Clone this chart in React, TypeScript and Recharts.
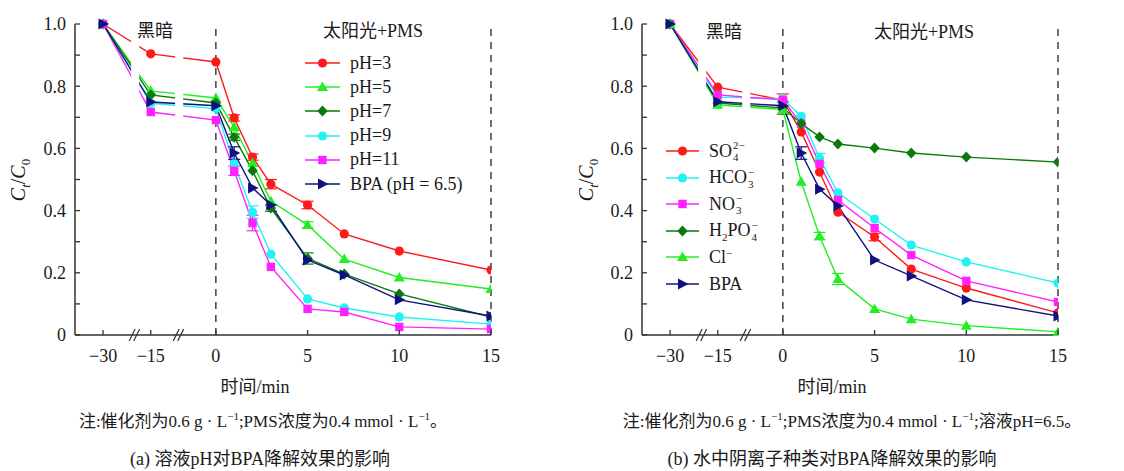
import React from "react";
import {
  LineChart,
  Line,
  XAxis,
  YAxis,
  ErrorBar,
  ReferenceLine,
  ReferenceArea,
  ReferenceDot,
} from "recharts";

// time points (min); the -30 and -15 points sit on a broken axis
const TIMES = [-30, -15, 0, 1, 2, 3, 5, 7, 10, 15];
const X_TICKS = [-30, -15, 0, 5, 10, 15];
const Y_TICKS = [0, 0.1, 0.2, 0.3, 0.4, 0.5, 0.6, 0.7, 0.8, 0.9, 1.0];

// (a) effect of pH
const PH3 = [1.0, 0.904, 0.878, 0.698, 0.572, 0.485, 0.418, 0.325, 0.27, 0.209];
const PH5 = [1.0, 0.785, 0.762, 0.668, 0.553, 0.43, 0.354, 0.244, 0.185, 0.148];
const PH7 = [1.0, 0.772, 0.746, 0.636, 0.528, 0.408, 0.246, 0.196, 0.132, 0.058];
const PH9 = [1.0, 0.745, 0.728, 0.55, 0.395, 0.26, 0.116, 0.087, 0.058, 0.035];
const PH11 = [1.0, 0.717, 0.691, 0.528, 0.36, 0.219, 0.084, 0.074, 0.026, 0.019];
const BPA_A = [1.0, 0.749, 0.737, 0.585, 0.473, 0.418, 0.241, 0.193, 0.113, 0.061];

// error bars (a)
const PH3_ERR = [0, 0, 0, 0.01, 0.01, 0.015, 0.012, 0, 0, 0];
const PH5_ERR = [0, 0, 0, 0, 0, 0, 0.01, 0, 0, 0];
const PH7_ERR = [0, 0, 0, 0.01, 0, 0.01, 0.018, 0, 0, 0];
const PH9_ERR = [0, 0, 0, 0, 0.02, 0, 0, 0, 0, 0];
const PH11_ERR = [0, 0, 0, 0.015, 0.025, 0, 0, 0, 0, 0];
const BPA_A_ERR = [0, 0, 0, 0.02, 0, 0, 0, 0, 0, 0];

// (b) effect of anions
const SO4 = [1.0, 0.797, 0.755, 0.653, 0.524, 0.395, 0.315, 0.212, 0.151, 0.071];
const HCO3 = [1.0, 0.765, 0.76, 0.703, 0.569, 0.457, 0.373, 0.289, 0.235, 0.167];
const NO3 = [1.0, 0.772, 0.756, 0.68, 0.55, 0.434, 0.344, 0.257, 0.174, 0.106];
const H2PO4 = [1.0, 0.746, 0.73, 0.68, 0.637, 0.614, 0.601, 0.585, 0.572, 0.556];
const CL = [1.0, 0.74, 0.725, 0.493, 0.318, 0.18, 0.084, 0.051, 0.03, 0.01];
const BPA_B = [1.0, 0.75, 0.737, 0.585, 0.469, 0.415, 0.241, 0.19, 0.113, 0.061];

// error bars (b)
const SO4_ERR = [0, 0, 0.02, 0, 0, 0, 0.012, 0, 0, 0];
const HCO3_ERR = [0, 0, 0, 0, 0.015, 0, 0, 0, 0, 0];
const NO3_ERR = [0, 0, 0, 0, 0, 0, 0, 0, 0, 0];
const H2PO4_ERR = [0, 0, 0.02, 0, 0, 0, 0, 0, 0, 0];
const CL_ERR = [0, 0, 0, 0, 0.012, 0.018, 0, 0, 0, 0];
const BPA_B_ERR = [0, 0, 0, 0.02, 0, 0, 0, 0, 0, 0];

// broken axis: where the dark-phase times land on the axis
const BROKEN_POS: Record<number, number> = { [-30]: -6.15, [-15]: -3.55 };
const BREAKS = [-4.4, -2.0];
const X_MIN = -7.68;

const axisPos = (t: number) => (t in BROKEN_POS ? BROKEN_POS[t] : t);

const FONT = "'Liberation Serif', 'Times New Roman', 'Noto Sans CJK SC', serif";
const INK = "#1a1a1a";
const AXIS = "#333";

type Shape = "circle" | "triangle" | "diamond" | "square" | "right";

function Marker({ cx, cy, shape, color }: { cx: number; cy: number; shape: Shape; color: string }) {
  if (cx == null || cy == null) return null;
  switch (shape) {
    case "circle":
      return <circle cx={cx} cy={cy} r={4.6} fill={color} />;
    case "triangle":
      return <polygon points={`${cx},${cy - 5.5} ${cx + 5.5},${cy + 4} ${cx - 5.5},${cy + 4}`} fill={color} />;
    case "diamond":
      return <polygon points={`${cx},${cy - 5.5} ${cx + 5.2},${cy} ${cx},${cy + 5.5} ${cx - 5.2},${cy}`} fill={color} />;
    case "square":
      return <rect x={cx - 4.2} y={cy - 4.2} width={8.4} height={8.4} fill={color} />;
    default:
      return <polygon points={`${cx - 4.5},${cy - 5.5} ${cx + 6},${cy} ${cx - 4.5},${cy + 5.5}`} fill={color} />;
  }
}

type Series = { key: string; label: React.ReactNode; color: string; shape: Shape; values: number[]; err: number[] };

const Ion = ({ base, sup, sub }: { base: string; sup?: string; sub?: string }) => (
  <span style={{ display: "inline-flex", alignItems: "center" }}>
    {base}
    <span style={{ display: "inline-flex", flexDirection: "column", fontSize: 11, lineHeight: "12px", marginLeft: 1 }}>
      <span style={{ height: 12 }}>{sup ?? "\u00a0"}</span>
      <span style={{ height: 12 }}>{sub ?? "\u00a0"}</span>
    </span>
  </span>
);

const SERIES_A: Series[] = [
  { key: "ph3", label: "pH=3", color: "#ff1a1a", shape: "circle", values: PH3, err: PH3_ERR },
  { key: "ph5", label: "pH=5", color: "#22ee22", shape: "triangle", values: PH5, err: PH5_ERR },
  { key: "ph7", label: "pH=7", color: "#0a7a0a", shape: "diamond", values: PH7, err: PH7_ERR },
  { key: "ph9", label: "pH=9", color: "#22f2f2", shape: "circle", values: PH9, err: PH9_ERR },
  { key: "ph11", label: "pH=11", color: "#ff22ff", shape: "square", values: PH11, err: PH11_ERR },
  { key: "bpa", label: "BPA (pH = 6.5)", color: "#101080", shape: "right", values: BPA_A, err: BPA_A_ERR },
];

const SERIES_B: Series[] = [
  { key: "so4", label: <Ion base="SO" sup="2−" sub="4" />, color: "#ff1a1a", shape: "circle", values: SO4, err: SO4_ERR },
  { key: "hco3", label: <Ion base="HCO" sup="−" sub="3" />, color: "#22f2f2", shape: "circle", values: HCO3, err: HCO3_ERR },
  { key: "no3", label: <Ion base="NO" sup="−" sub="3" />, color: "#ff22ff", shape: "square", values: NO3, err: NO3_ERR },
  {
    key: "h2po4",
    label: (
      <span style={{ display: "inline-flex", alignItems: "center" }}>
        H<span style={{ fontSize: 11, position: "relative", top: 6 }}>2</span>
        <Ion base="PO" sup="−" sub="4" />
      </span>
    ),
    color: "#0a7a0a",
    shape: "diamond",
    values: H2PO4,
    err: H2PO4_ERR,
  },
  {
    key: "cl",
    label: (
      <span>
        Cl<span style={{ fontSize: 11, position: "relative", top: -6 }}>−</span>
      </span>
    ),
    color: "#22ee22",
    shape: "triangle",
    values: CL,
    err: CL_ERR,
  },
  { key: "bpa", label: "BPA", color: "#101080", shape: "right", values: BPA_B, err: BPA_B_ERR },
];

function buildRows(series: Series[]) {
  return TIMES.map((t, i) => {
    const row: Record<string, number> = { t, pos: axisPos(t) };
    series.forEach((s) => {
      row[s.key] = s.values[i];
      row[`${s.key}Err`] = s.err[i];
    });
    return row;
  });
}

const xLabel = (p: number) => {
  const t = X_TICKS.find((v) => Math.abs(axisPos(v) - p) < 1e-6) ?? p;
  return t < 0 ? `−${Math.abs(t)}` : `${t}`;
};

function XTick(props: any) {
  const { x, y, payload } = props;
  return (
    <g>
      <line x1={x} x2={x} y1={y} y2={y - 5} stroke={AXIS} strokeWidth={1.3} />
      <text x={x} y={y + 27} textAnchor="middle" fontSize={18} fill={INK} fontFamily={FONT}>
        {xLabel(payload.value)}
      </text>
    </g>
  );
}

function YTick(props: any) {
  const { x, y, payload } = props;
  const v = payload.value as number;
  const major = Math.round(v * 10) % 2 === 0;
  const label = v === 0 ? "0" : v.toFixed(1);
  return (
    <g>
      <line x1={x} x2={x + 5} y1={y} y2={y} stroke={AXIS} strokeWidth={1.3} />
      {major && (
        <text x={x - 9} y={y} dy="0.35em" textAnchor="end" fontSize={18} fill={INK} fontFamily={FONT}>
          {label}
        </text>
      )}
    </g>
  );
}

const BreakMark = (props: any) => {
  const { cx, cy } = props;
  return (
    <g stroke={AXIS} strokeWidth={1.2}>
      <line x1={cx - 6} y1={cy + 6} x2={cx} y2={cy - 6} />
      <line x1={cx - 1.5} y1={cy + 6} x2={cx + 4.5} y2={cy - 6} />
    </g>
  );
};

function Panel({ series, left }: { series: Series[]; left: number }) {
  const rows = buildRows(series);
  return (
    <div style={{ position: "absolute", left, top: 0 }}>
      <LineChart width={562} height={380} data={rows} margin={{ top: 24, right: 71, bottom: 0, left: 0 }}>
        <XAxis
          type="number"
          dataKey="pos"
          domain={[X_MIN, 15]}
          ticks={X_TICKS.map(axisPos)}
          allowDataOverflow
          height={45}
          tickSize={0}
          tickMargin={0}
          tickLine={false}
          tick={<XTick />}
          axisLine={{ stroke: AXIS, strokeWidth: 1.5 }}
        />
        <YAxis
          type="number"
          domain={[0, 1]}
          ticks={Y_TICKS}
          width={75}
          tickSize={0}
          tickMargin={0}
          tickLine={false}
          tick={<YTick />}
          axisLine={{ stroke: AXIS, strokeWidth: 1.5 }}
          interval={0}
        />
        <ReferenceLine x={0} stroke={AXIS} strokeWidth={1.4} strokeDasharray="7 6" />
        <ReferenceLine x={15} stroke={AXIS} strokeWidth={1.4} strokeDasharray="7 6" />
        {series.map((s) => (
          <Line
            key={s.key}
            type="linear"
            dataKey={s.key}
            stroke={s.color}
            strokeWidth={1.4}
            isAnimationActive={false}
            dot={(p: any) => <Marker key={`${s.key}-${p.index}`} cx={p.cx} cy={p.cy} shape={s.shape} color={s.color} />}
            activeDot={false}
          >
            <ErrorBar dataKey={`${s.key}Err`} width={6} stroke={s.color} strokeWidth={1.2} isAnimationActive={false} />
          </Line>
        ))}
        {BREAKS.map((b) => (
          <ReferenceArea
            key={`gap-${b}`}
            x1={b - 0.22}
            x2={b + 0.22}
            y1={0.45}
            y2={0.99}
            fill="#fff"
            fillOpacity={1}
            stroke="none"
            zIndex={1000}
          />
        ))}
        {BREAKS.map((b) => (
          <ReferenceDot key={`brk-${b}`} x={b} y={0} r={0} ifOverflow="visible" shape={<BreakMark />} />
        ))}
      </LineChart>
    </div>
  );
}

function Legend({ series, left, top, step, lineW }: { series: Series[]; left: number; top: number; step: number; lineW: number }) {
  return (
    <div style={{ position: "absolute", left, top }}>
      {series.map((s, i) => (
        <div key={s.key} style={{ position: "absolute", top: i * step, left: 0, display: "flex", alignItems: "center", height: 0, whiteSpace: "nowrap" }}>
          <svg width={lineW} height={14} style={{ overflow: "visible" }}>
            <line x1={0} x2={lineW} y1={7} y2={7} stroke={s.color} strokeWidth={1.4} />
            <Marker cx={lineW / 2} cy={7} shape={s.shape} color={s.color} />
          </svg>
          <span style={{ marginLeft: 10, fontSize: 18 }}>{s.label}</span>
        </div>
      ))}
    </div>
  );
}

const Centered = ({ x, y, size, children }: { x: number; y: number; size: number; children: React.ReactNode }) => (
  <div
    style={{
      position: "absolute",
      left: x,
      top: y,
      transform: "translate(-50%, -50%)",
      fontSize: size,
      lineHeight: `${size + 2}px`,
      whiteSpace: "nowrap",
    }}
  >
    {children}
  </div>
);

const YLabel = ({ x, y }: { x: number; y: number }) => (
  <div style={{ position: "absolute", left: x, top: y, transform: "translate(-50%, -50%) rotate(-90deg)", fontSize: 20, whiteSpace: "nowrap" }}>
    <i>C</i>
    <sub style={{ fontSize: 13 }}>
      <i>t</i>
    </sub>
    /<i>C</i>
    <sub style={{ fontSize: 13 }}>0</sub>
  </div>
);

const Unit = () => (
  <>
    L<sup style={{ fontSize: 11, lineHeight: 0 }}>−1</sup>
  </>
);

export default function App() {
  return (
    <div
      style={{
        position: "absolute",
        left: 0,
        top: 0,
        width: 1124,
        height: 471,
        background: "#fff",
        fontFamily: FONT,
        color: INK,
        overflow: "hidden",
      }}
    >
      <Panel series={SERIES_A} left={0} />
      <Panel series={SERIES_B} left={567} />

      <Centered x={155} y={31} size={18}>黑暗</Centered>
      <Centered x={373} y={31} size={18}>太阳光+PMS</Centered>
      <Centered x={724} y={32} size={18}>黑暗</Centered>
      <Centered x={924} y={32} size={18}>太阳光+PMS</Centered>

      <Legend series={SERIES_A} left={305} top={63} step={24.2} lineW={35} />
      <Legend series={SERIES_B} left={666} top={151} step={26.6} lineW={33} />

      <YLabel x={20} y={180} />
      <YLabel x={588} y={180} />

      <Centered x={255} y={387} size={18}>时间/min</Centered>
      <Centered x={832} y={387} size={18}>时间/min</Centered>

      <Centered x={263} y={421} size={17}>
        注:催化剂为0.6 g · <Unit />;PMS浓度为0.4 mmol · <Unit />。
      </Centered>
      <Centered x={852} y={421} size={17}>
        注:催化剂为0.6 g · <Unit />;PMS浓度为0.4 mmol · <Unit />;溶液pH=6.5。
      </Centered>

      <Centered x={260} y={459} size={18}>(a) 溶液pH对BPA降解效果的影响</Centered>
      <Centered x={832} y={459} size={18}>(b) 水中阴离子种类对BPA降解效果的影响</Centered>
    </div>
  );
}
